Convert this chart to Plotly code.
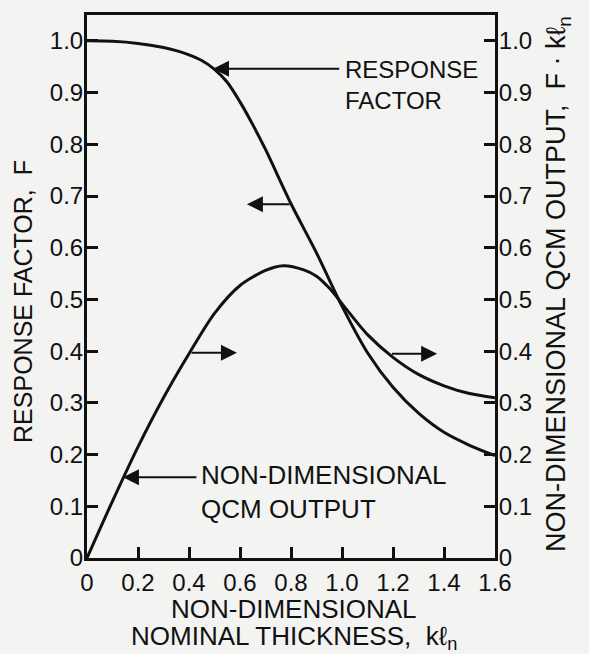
import plotly.graph_objects as go

# Data
thickness_F = [0.0, 0.1, 0.2, 0.3, 0.35, 0.4, 0.45, 0.5, 0.55, 0.6, 0.65, 0.7, 0.8, 0.9, 1.0, 1.1, 1.2, 1.3, 1.4, 1.5, 1.6]
response_F = [1.0, 0.999, 0.995, 0.987, 0.981, 0.973, 0.962, 0.945, 0.92, 0.882, 0.838, 0.79, 0.685, 0.59, 0.487, 0.397, 0.33, 0.28, 0.243, 0.218, 0.198]

thickness_out = [0.0, 0.1, 0.2, 0.3, 0.4, 0.5, 0.6, 0.7, 0.77, 0.85, 0.9, 0.95, 1.0, 1.05, 1.1, 1.2, 1.3, 1.4, 1.5, 1.6]
qcm_output = [0.0, 0.11, 0.215, 0.31, 0.395, 0.473, 0.527, 0.556, 0.565, 0.557, 0.545, 0.522, 0.492, 0.461, 0.432, 0.388, 0.355, 0.333, 0.318, 0.31]

x_ticks = [0, 0.2, 0.4, 0.6, 0.8, 1.0, 1.2, 1.4, 1.6]
x_tick_labels = ["0", "0.2", "0.4", "0.6", "0.8", "1.0", "1.2", "1.4", "1.6"]
y_ticks = [0, 0.1, 0.2, 0.3, 0.4, 0.5, 0.6, 0.7, 0.8, 0.9, 1.0]
y_tick_labels = ["0", "0.1", "0.2", "0.3", "0.4", "0.5", "0.6", "0.7", "0.8", "0.9", "1.0"]

FONT = "Liberation Sans"
INK = "#111111"
BG = "#f3f3f1"

fig = go.Figure()
fig.add_trace(go.Scatter(x=thickness_F, y=response_F, mode="lines",
                         line=dict(color=INK, width=3, shape="spline", smoothing=0.8),
                         showlegend=False, yaxis="y"))
fig.add_trace(go.Scatter(x=thickness_out, y=qcm_output, mode="lines",
                         line=dict(color=INK, width=3, shape="spline", smoothing=0.8),
                         showlegend=False, yaxis="y2"))

axis_common = dict(showgrid=False, zeroline=False, showline=True, linecolor=INK, linewidth=3,
                   ticks="inside", ticklen=11, tickwidth=2.5, tickcolor=INK,
                   tickfont=dict(family=FONT, size=24, color=INK))

fig.update_layout(
    width=589, height=654,
    margin=dict(l=87, r=94, t=13, b=96),
    paper_bgcolor=BG, plot_bgcolor=BG,
    font=dict(family=FONT, color=INK, size=24),
    xaxis=dict(range=[0, 1.6], tickvals=x_ticks, ticktext=x_tick_labels, mirror=True,
               ticklabelstandoff=1, **axis_common),
    yaxis=dict(range=[0, 1.05], tickvals=y_ticks, ticktext=y_tick_labels, mirror=True,
               ticklabelstandoff=-4, **axis_common),
    yaxis2=dict(range=[0, 1.05], tickvals=y_ticks, ticktext=y_tick_labels, overlaying="y",
                side="right", ticklabelstandoff=-4, **axis_common),
)

arrow_common = dict(xref="x", yref="y", axref="x", ayref="y", text="", showarrow=True,
                    arrowhead=2, arrowsize=1.6, arrowwidth=2, arrowcolor=INK)
# (tip_x, tip_y, tail_x, tail_y)
arrows = [
    (0.494, 0.946, 0.995, 0.946),
    (0.627, 0.684, 0.80, 0.684),
    (0.588, 0.397, 0.404, 0.397),
    (1.373, 0.395, 1.19, 0.395),
    (0.141, 0.156, 0.435, 0.156),
]
for tx, ty, sx, sy in arrows:
    fig.add_annotation(x=tx, y=ty, ax=sx, ay=sy, **arrow_common)

fig.add_annotation(x=1.005, y=0.915, xref="x", yref="y", text="RESPONSE<br>FACTOR",
                   showarrow=False, xanchor="left", yanchor="middle", align="left",
                   font=dict(family=FONT, size=24, color=INK))
fig.add_annotation(x=0.44, y=0.127, xref="x", yref="y", text="NON-DIMENSIONAL<br>QCM OUTPUT",
                   showarrow=False, xanchor="left", yanchor="middle", align="left",
                   font=dict(family=FONT, size=26, color=INK))

# Axis titles (positions in pixels converted to paper fractions)
def px_x(p):
    return (p - 87) / 408.0

def px_y(p):
    return (558 - p) / 545.0

fig.add_annotation(x=px_x(294), y=px_y(609), xref="paper", yref="paper",
                   text="NON-DIMENSIONAL", showarrow=False,
                   xanchor="center", yanchor="middle",
                   font=dict(family=FONT, size=26, color=INK))
fig.add_annotation(x=px_x(294), y=px_y(638), xref="paper", yref="paper",
                   text="NOMINAL THICKNESS,  kℓ<sub>n</sub>", showarrow=False,
                   xanchor="center", yanchor="middle",
                   font=dict(family=FONT, size=26, color=INK))
fig.add_annotation(x=px_x(23), y=px_y(301), xref="paper", yref="paper",
                   text="RESPONSE FACTOR,  F", textangle=-90,
                   showarrow=False, xanchor="center", yanchor="middle",
                   font=dict(family=FONT, size=25, color=INK))
fig.add_annotation(x=px_x(558), y=px_y(283), xref="paper", yref="paper",
                   text="NON-DIMENSIONAL QCM OUTPUT,  F · kℓ<sub>n</sub>", textangle=-90,
                   showarrow=False, xanchor="center", yanchor="middle",
                   font=dict(family=FONT, size=27, color=INK))

fig.write_html("out.html")
